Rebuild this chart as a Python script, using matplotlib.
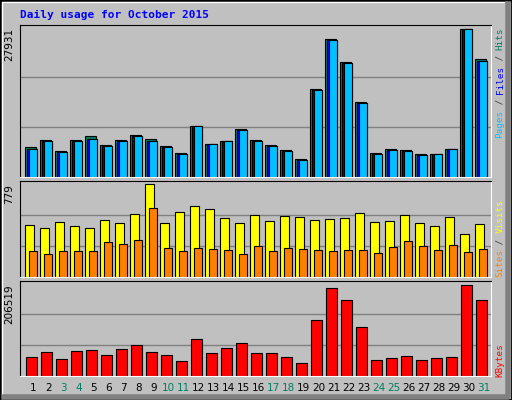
import matplotlib
matplotlib.use("Agg")
import matplotlib.pyplot as plt
from matplotlib.patches import Rectangle

DAYS = list(range(1, 32))
WEEKENDS = [3, 4, 10, 11, 17, 18, 24, 25, 31]

HITS = [5675, 6935, 4855, 6935, 7692, 5990, 6935, 7881, 7125, 5864, 4477, 9584,
        6179, 6746, 9016, 6935, 5990, 5044, 3342, 16582, 26040, 21752, 14123,
        4477, 5233, 5044, 4287, 4287, 5233, 27931, 22257]
FILES = [5359, 6746, 4666, 6746, 7125, 5800, 6746, 7692, 6746, 5611, 4287, 9584,
         6179, 6746, 8827, 6746, 5800, 4855, 3152, 16393, 25850, 21500, 13934,
         4287, 5044, 4855, 4098, 4287, 5233, 27931, 21878]
PAGES = [5300, 6700, 4640, 6700, 7100, 5780, 6700, 7650, 6700, 5590, 4270, 9560,
         6150, 6720, 8800, 6700, 5780, 4830, 3130, 16350, 25800, 21450, 13900,
         4270, 5020, 4830, 4080, 4270, 5210, 27900, 21850]
VISITS = [436, 411, 461, 427, 411, 478, 453, 529, 779, 453, 546, 596, 571, 495,
          453, 520, 470, 512, 503, 478, 487, 495, 537, 461, 470, 520, 453, 427,
          503, 360, 444]
SITES = [217, 191, 217, 217, 217, 292, 276, 309, 579, 242, 217, 242, 233, 225,
         191, 259, 217, 242, 233, 225, 217, 225, 225, 200, 250, 301, 259, 225,
         267, 208, 233]
KBYTES = [42208, 53514, 37686, 55775, 58036, 46730, 60297, 69342, 53514, 46730,
          33163, 82909, 51252, 62558, 73864, 51252, 51252, 42208, 28641, 125870,
          198229, 171095, 110042, 35424, 39947, 44469, 35424, 39947, 42208,
          206519, 171095]

BG = "#c0c0c0"
W, H = 512, 400
fig = plt.figure(figsize=(W / 100, H / 100), dpi=100)
fig.patch.set_facecolor(BG)

# outer bevel
fig.add_artist(Rectangle((0, 0), 1, 1, transform=fig.transFigure, fill=False,
                         edgecolor="black", linewidth=2))
fig.add_artist(plt.Line2D([1.5 / W, 1.5 / W, 1 - 5 / W], [6 / H, 1 - 1.5 / H, 1 - 1.5 / H],
                          transform=fig.transFigure, color="white", linewidth=1))
fig.add_artist(plt.Line2D([1 - 4 / W, 1 - 4 / W, 4 / W], [1 - 4 / H, 3 / H, 3 / H],
                          transform=fig.transFigure, color="#808080", linewidth=4))


def panel(top, bottom):
    ax = fig.add_axes([20 / W, 1 - bottom / H, 471 / W, (bottom - top) / H])
    ax.set_facecolor(BG)
    ax.set_xlim(0, 31.4)
    ax.set_xticks([])
    ax.set_yticks([])
    for s in ("left", "top"):
        ax.spines[s].set_color("black")
    for s in ("right", "bottom"):
        ax.spines[s].set_color("white")
    return ax


def grid(ax, vmax, frac_top):
    ax.set_ylim(0, vmax * frac_top)
    for f in (1 / 3, 2 / 3):
        ax.axhline(vmax * f * 1.01, color="#808080", linewidth=1, zorder=0)


def bars(ax, left, width, vals, color):
    ax.bar([d - 1 + left for d in DAYS], vals, width=width, align="edge",
           color=color, edgecolor="black", linewidth=0.8, zorder=2)


ax1 = panel(25, 177)
grid(ax1, max(HITS), 1.027)
bars(ax1, 0.33, 0.71, HITS, "#008060")
bars(ax1, 0.44, 0.67, FILES, "#0000ff")
bars(ax1, 0.60, 0.51, PAGES, "#00c0ff")

ax2 = panel(181, 277)
grid(ax2, max(VISITS), 1.036)
bars(ax2, 0.33, 0.58, VISITS, "#ffff00")
bars(ax2, 0.60, 0.51, SITES, "#ff8000")

ax3 = panel(281, 376)
grid(ax3, max(KBYTES), 1.04)
bars(ax3, 0.40, 0.71, KBYTES, "#ff0000")

for d in DAYS:
    ax3.text(d - 1 + 0.9, -0.13, str(d), transform=ax3.get_xaxis_transform(),
             ha="center", va="center", fontsize=7.5,
             color="#008060" if d in WEEKENDS else "black")

fig.text(20 / W, 1 - 15 / H, "Daily usage for October 2015", ha="left", va="center",
         fontsize=8, color="#0000ff", fontweight="bold", family="DejaVu Sans Mono")

for top, val in ((28, max(HITS)), (184, max(VISITS)), (284, max(KBYTES))):
    fig.text(9 / W, 1 - top / H, str(val), rotation=90, ha="center", va="top",
             fontsize=7.5, color="black")

CH = 5.5  # px per character of the side labels


def side(bottom, pieces):
    y = bottom
    for txt, col in pieces:
        fig.text(500 / W, 1 - y / H, txt, rotation=90, ha="center", va="bottom",
                 fontsize=6.7, color=col, family="DejaVu Sans Mono")
        y -= len(txt) * CH


side(138, [("Pages", "#00c0ff"), (" / ", "#404040"), ("Files", "#0000ff"),
           (" / ", "#404040"), ("Hits", "#008060")])
side(277, [("Sites", "#ff8000"), (" / ", "#404040"), ("Visits", "#ffff00")])
side(377, [("KBytes", "#ff0000")])

fig.savefig("out.png", dpi=100, facecolor=BG)
